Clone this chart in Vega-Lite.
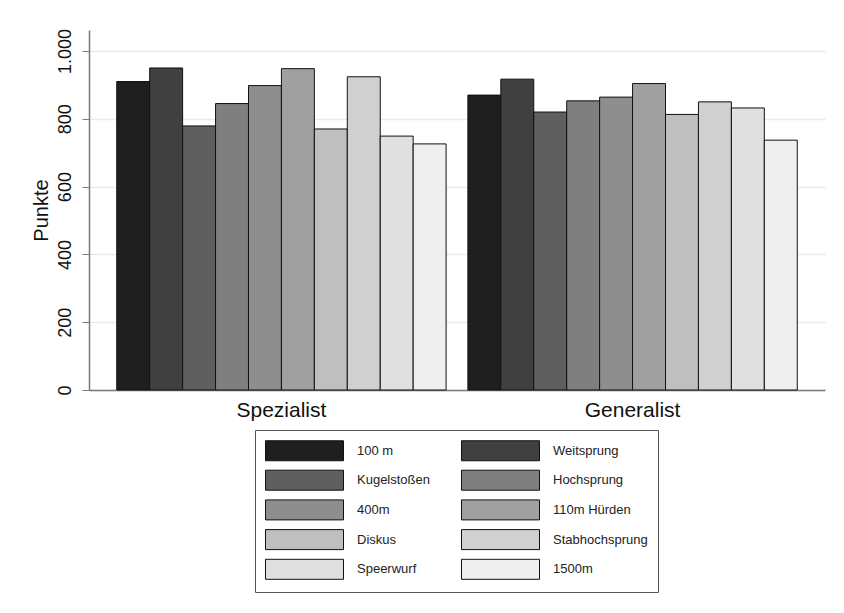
{
  "$schema": "https://vega.github.io/schema/vega-lite/v6.json",
  "autosize": {"type": "none"},
  "width": 736,
  "height": 360,
  "padding": {"left": 89, "top": 30, "right": 19, "bottom": 223},
  "background": "white",
  "config": {
    "font": "Liberation Sans",
    "view": {"stroke": null}
  },
  "data": {
    "values": [
      {"group": "Spezialist", "discipline": "100 m", "points": 910},
      {"group": "Spezialist", "discipline": "Weitsprung", "points": 950},
      {"group": "Spezialist", "discipline": "Kugelstoßen", "points": 779},
      {"group": "Spezialist", "discipline": "Hochsprung", "points": 845},
      {"group": "Spezialist", "discipline": "400m", "points": 898},
      {"group": "Spezialist", "discipline": "110m Hürden", "points": 948},
      {"group": "Spezialist", "discipline": "Diskus", "points": 770},
      {"group": "Spezialist", "discipline": "Stabhochsprung", "points": 924},
      {"group": "Spezialist", "discipline": "Speerwurf", "points": 749},
      {"group": "Spezialist", "discipline": "1500m", "points": 726},
      {"group": "Generalist", "discipline": "100 m", "points": 870},
      {"group": "Generalist", "discipline": "Weitsprung", "points": 917},
      {"group": "Generalist", "discipline": "Kugelstoßen", "points": 820},
      {"group": "Generalist", "discipline": "Hochsprung", "points": 853},
      {"group": "Generalist", "discipline": "400m", "points": 864},
      {"group": "Generalist", "discipline": "110m Hürden", "points": 904},
      {"group": "Generalist", "discipline": "Diskus", "points": 813},
      {"group": "Generalist", "discipline": "Stabhochsprung", "points": 850},
      {"group": "Generalist", "discipline": "Speerwurf", "points": 832},
      {"group": "Generalist", "discipline": "1500m", "points": 737}
    ]
  },
  "mark": {"type": "bar", "stroke": "#111111", "strokeWidth": 1},
  "encoding": {
    "x": {
      "field": "group",
      "type": "nominal",
      "sort": ["Spezialist", "Generalist"],
      "scale": {"paddingInner": 0.062, "paddingOuter": 0.079},
      "axis": {
        "title": null,
        "labelAngle": 0,
        "labelFontSize": 21,
        "labelColor": "#111111",
        "labelBaseline": "top",
        "labelPadding": 9,
        "ticks": false,
        "domainColor": "#7a7a7a",
        "domainWidth": 1.5,
        "grid": false
      }
    },
    "xOffset": {
      "field": "discipline",
      "type": "nominal",
      "sort": ["100 m", "Weitsprung", "Kugelstoßen", "Hochsprung", "400m", "110m Hürden", "Diskus", "Stabhochsprung", "Speerwurf", "1500m"],
      "scale": {"paddingInner": 0, "paddingOuter": 0}
    },
    "y": {
      "field": "points",
      "type": "quantitative",
      "scale": {"domain": [0, 1062], "nice": false, "zero": true},
      "axis": {
        "title": "Punkte",
        "titleFontSize": 20,
        "titleFontWeight": "normal",
        "titleColor": "#111111",
        "titlePadding": 5,
        "values": [0, 200, 400, 600, 800, 1000],
        "labelExpr": "replace(format(datum.value, ','), ',', '.')",
        "labelAngle": 270,
        "labelAlign": "center",
        "labelBaseline": "bottom",
        "labelFontSize": 18,
        "labelColor": "#111111",
        "labelPadding": 8,
        "tickSize": 7,
        "tickColor": "#7a7a7a",
        "domainColor": "#7a7a7a",
        "domainWidth": 1.5,
        "gridColor": "#eaeaea",
        "gridWidth": 1.5
      }
    },
    "color": {
      "field": "discipline",
      "type": "nominal",
      "sort": ["100 m", "Weitsprung", "Kugelstoßen", "Hochsprung", "400m", "110m Hürden", "Diskus", "Stabhochsprung", "Speerwurf", "1500m"],
      "scale": {
        "domain": ["100 m", "Weitsprung", "Kugelstoßen", "Hochsprung", "400m", "110m Hürden", "Diskus", "Stabhochsprung", "Speerwurf", "1500m"],
        "range": ["#1f1f1f", "#404040", "#5f5f5f", "#7f7f7f", "#8e8e8e", "#a0a0a0", "#bfbfbf", "#d0d0d0", "#e0e0e0", "#efefef"]
      },
      "legend": {
        "title": null,
        "orient": "none",
        "legendX": 166,
        "legendY": 400,
        "columns": 2,
        "direction": "horizontal",
        "symbolType": "M-1,-1H6.8V1H-1Z",
        "symbolSize": 400,
        "symbolStrokeColor": "#111111",
        "symbolStrokeWidth": 1,
        "symbolOpacity": 1,
        "labelFontSize": 13,
        "labelColor": "#222222",
        "labelOffset": 71,
        "labelLimit": 200,
        "columnPadding": 29,
        "rowPadding": 4.7,
        "padding": 10,
        "strokeColor": "#555555",
        "fillColor": "white"
      }
    }
  }
}
